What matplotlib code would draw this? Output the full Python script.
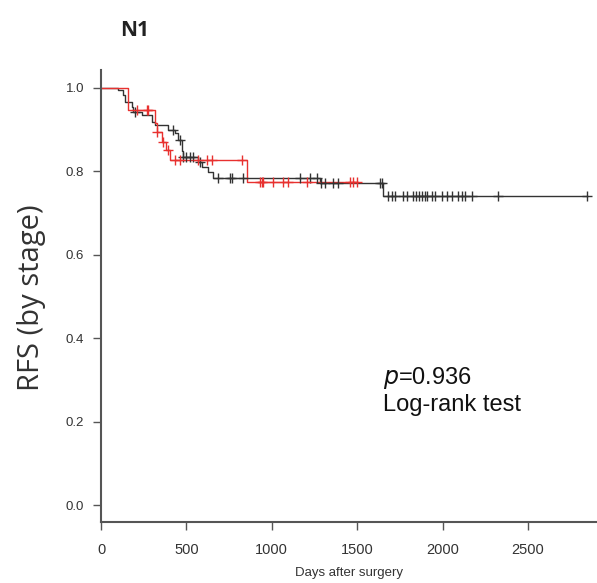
import numpy as np
import matplotlib
matplotlib.use("Agg")
import matplotlib.pyplot as plt

# Kaplan-Meier steps (days, survival)
black_t = [0, 100, 129, 140, 181, 187, 240, 299, 316, 392, 433, 451, 474, 480,
           568, 591, 626, 656, 1282, 1651, 2845]
black_s = [1.0, 0.995, 0.983, 0.966, 0.954, 0.942, 0.935, 0.918, 0.911, 0.899,
           0.892, 0.875, 0.847, 0.835, 0.823, 0.81, 0.799, 0.784, 0.771, 0.741,
           0.741]
black_cens = [199, 422, 460, 480, 500, 520, 540, 580, 685, 755, 767, 831, 1165,
              1224, 1265, 1290, 1310, 1360, 1390, 1633, 1645, 1680, 1704, 1721,
              1768, 1792, 1827, 1844, 1862, 1879, 1897, 1909, 1938, 1956, 1996,
              2026, 2055, 2090, 2114, 2131, 2172, 2324, 2845]

red_t = [0, 160, 316, 328, 357, 380, 404, 855, 1500]
red_s = [1.0, 0.947, 0.916, 0.894, 0.87, 0.851, 0.827, 0.775, 0.775]
red_cens = [211, 269, 275, 328, 365, 395, 433, 462, 568, 620, 650, 825, 930,
            943, 948, 1007, 1066, 1095, 1206, 1458, 1475, 1500]

x_ticks = [0, 500, 1000, 1500, 2000, 2500]
y_ticks = [0.0, 0.2, 0.4, 0.6, 0.8, 1.0]


def surv_at(times, surv, t):
    idx = np.searchsorted(times, t, side="right") - 1
    return np.array(surv)[idx]


fig = plt.figure(figsize=(5.97, 5.83), dpi=100)
ax = fig.add_axes([101 / 597, 61 / 583, 496 / 597, 452 / 583])

grey = "#333333"
red = "#e8312f"

ax.step(black_t, black_s, where="post", color=grey, lw=1.0)
ax.step(red_t, red_s, where="post", color=red, lw=1.0)
ax.plot(black_cens, surv_at(black_t, black_s, black_cens), "+", color=grey,
        ms=7, mew=1.0)
ax.plot(red_cens, surv_at(red_t, red_s, red_cens), "+", color=red,
        ms=7, mew=1.0)

ax.set_xlim(0, 2904)
ax.set_ylim(-0.0395, 1.042)
ax.set_xticks(x_ticks)
ax.set_yticks(y_ticks)
ax.set_yticklabels([f"{v:.1f}" for v in y_ticks])

for s in ["top", "right"]:
    ax.spines[s].set_visible(False)
for s in ["left", "bottom"]:
    ax.spines[s].set_color("#555555")
    ax.spines[s].set_linewidth(1.5)

ax.tick_params(direction="out", length=6, width=1.0, color="#555555",
               labelcolor=grey, pad=6)
ax.tick_params(axis="x", labelsize=10.5, pad=9)
ax.tick_params(axis="y", labelsize=9.5)
for lab in ax.get_xticklabels() + ax.get_yticklabels():
    lab.set_fontfamily("Liberation Sans")

ax.set_xlabel("Days after surgery", fontsize=9.5, family="Liberation Sans",
              color=grey, labelpad=7)
fig.text(0.052, 0.49, "RFS (by stage)", rotation=90, fontsize=21,
         family="Open Sans", color=grey, ha="center", va="center")

fig.text(135 / 597, 1 - 31 / 583, "N1", fontsize=15, fontweight="bold",
         family="Open Sans", color="#222222", ha="center", va="center")

ax.text(1650, 0.275, "$p$=0.936\nLog-rank test", fontsize=17,
        family="Liberation Sans", color="#111111", ha="left", va="center",
        linespacing=1.15)

fig.savefig("out.png", dpi=100)
